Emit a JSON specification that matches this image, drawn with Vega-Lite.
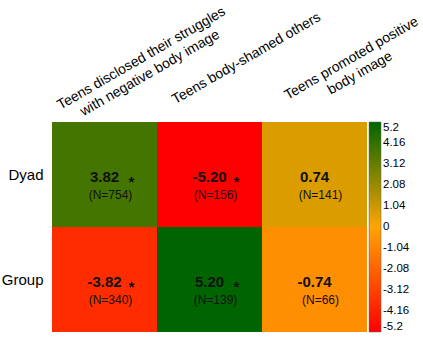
{
  "$schema": "https://vega.github.io/schema/vega-lite/v6.json",
  "autosize": "none",
  "padding": {"left": 52, "top": 122, "right": 56, "bottom": 8},
  "width": 315,
  "height": 210,
  "background": "white",
  "config": {
    "view": {"stroke": null},
    "font": "Liberation Sans",
    "axis": {"labelFont": "Liberation Sans", "labelColor": "#000"},
    "legend": {"labelFont": "Liberation Sans", "labelColor": "#000"}
  },
  "data": {
    "values": [
      {"behavior": "Teens disclosed their struggles|with negative body image", "type": "Dyad", "value": 3.82, "label": "3.82", "n": "(N=754)", "star": "*"},
      {"behavior": "Teens body-shamed others", "type": "Dyad", "value": -5.2, "label": "-5.20", "n": "(N=156)", "star": "*"},
      {"behavior": "Teens promoted positive|body image", "type": "Dyad", "value": 0.74, "label": "0.74", "n": "(N=141)", "star": ""},
      {"behavior": "Teens disclosed their struggles|with negative body image", "type": "Group", "value": -3.82, "label": "-3.82", "n": "(N=340)", "star": "*"},
      {"behavior": "Teens body-shamed others", "type": "Group", "value": 5.2, "label": "5.20", "n": "(N=139)", "star": "*"},
      {"behavior": "Teens promoted positive|body image", "type": "Group", "value": -0.74, "label": "-0.74", "n": "(N=66)", "star": ""}
    ]
  },
  "encoding": {
    "x": {
      "field": "behavior", "type": "nominal", "sort": null,
      "axis": {
        "orient": "top", "title": null, "ticks": false, "domain": false,
        "labelAngle": -30, "labelAlign": "center", "labelBaseline": "middle",
        "labelFontSize": 14, "labelOffset": 37, "labelPadding": 64,
        "labelLimit": 400, "labelOverlap": false, "labelBound": false,
        "labelLineHeight": 17,
        "labelExpr": "split(datum.label, '|')"
      }
    },
    "y": {
      "field": "type", "type": "nominal", "sort": ["Dyad", "Group"],
      "axis": {"title": null, "ticks": false, "domain": false, "labelFontSize": 15, "labelPadding": 9}
    }
  },
  "layer": [
    {
      "mark": {"type": "rect"},
      "encoding": {
        "color": {
          "field": "value", "type": "quantitative",
          "scale": {"type": "linear", "domain": [-5.2, 0, 5.2], "range": ["#ff0000", "#ffa500", "#006400"], "interpolate": "rgb"},
          "legend": {
            "title": null, "orient": "right", "offset": 2, "padding": 0,
            "direction": "vertical",
            "gradientLength": 210, "gradientThickness": 12,
            "gradientStrokeColor": "#666", "gradientStrokeWidth": 0.5,
            "values": [5.2, 4.16, 3.12, 2.08, 1.04, 0, -1.04, -2.08, -3.12, -4.16, -5.2],
            "labelExpr": "toString(datum.value)",
            "labelFontSize": 11.5, "labelBaseline": "middle", "labelOffset": 2,
            "labelOverlap": false
          }
        }
      }
    },
    {
      "mark": {"type": "text", "fontWeight": "bold", "fontSize": 15, "dy": 2, "color": "#111"},
      "encoding": {"text": {"field": "label"}}
    },
    {
      "mark": {"type": "text", "fontWeight": "bold", "fontSize": 15, "dy": 7, "dx": 27, "color": "#111"},
      "encoding": {"text": {"field": "star"}}
    },
    {
      "mark": {"type": "text", "fontSize": 12, "dy": 20, "dx": 6, "color": "#111"},
      "encoding": {"text": {"field": "n"}}
    }
  ]
}
